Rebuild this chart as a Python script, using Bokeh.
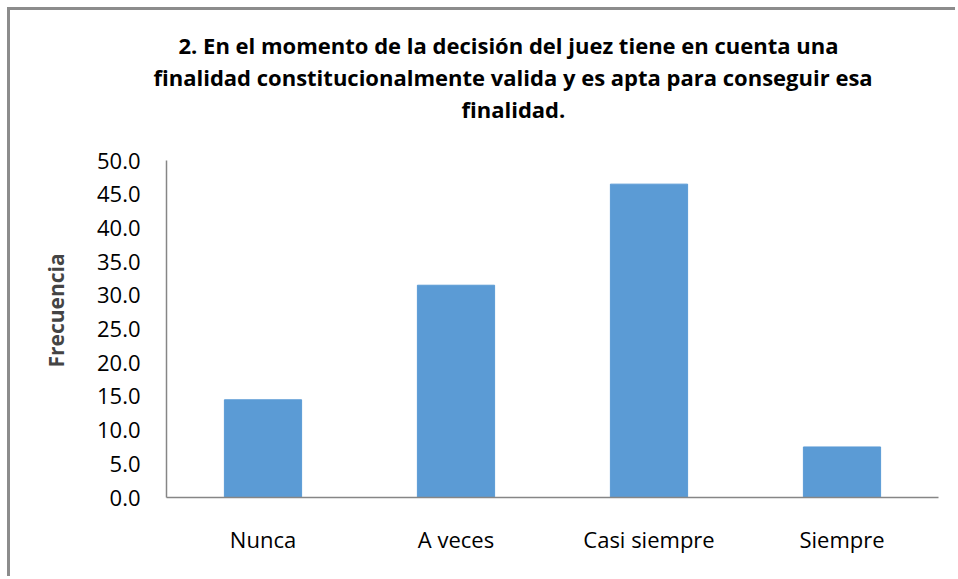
from bokeh.plotting import figure
from bokeh.models import Range1d, FactorRange, SingleIntervalTicker, NumeralTickFormatter, Title
from bokeh.embed import file_html
from bokeh.resources import INLINE

categories = ["Nunca", "A veces", "Casi siempre", "Siempre"]
frecuencia = [14.5, 31.5, 46.5, 7.5]
title_lines = [
    "2. En el momento de la decisión del juez tiene en cuenta una",
    "finalidad constitucionalmente valida y es apta para conseguir esa",
    "finalidad.",
]
# horizontal offsets (px from plot frame's left edge) that centre each title line on the chart
title_offsets = [12, -13, 295]

W, H = 948, 569
p = figure(x_range=FactorRange(factors=categories, range_padding=0),
           y_range=Range1d(0, 55.5),
           width=W, height=H, output_backend="svg", toolbar_location=None,
           min_border_left=156, min_border_right=20, min_border_top=113, min_border_bottom=82,
           styles={"margin-left": "7px", "margin-top": "7px",
                   "border-left": "3px solid #8c8c8c", "border-top": "3px solid #8c8c8c"})
p.x_range.range_padding = 0
p.vbar(x=categories, top=frecuencia, width=0.4, color="#5b9bd5", line_color="#5b9bd5")

p.outline_line_color = None
p.grid.grid_line_color = None
p.background_fill_color = "white"
p.border_fill_color = "white"

p.yaxis.ticker = SingleIntervalTicker(interval=5)
p.yaxis.formatter = NumeralTickFormatter(format="0.0")
p.yaxis.bounds = (0, 50)
for ax in (p.xaxis, p.yaxis):
    ax.axis_line_color = "#868686"
    ax.axis_line_width = 1.5
    ax.major_tick_line_color = None
    ax.minor_tick_line_color = None
    ax.major_label_text_font = "Open Sans"
    ax.major_label_text_color = "black"
p.yaxis.major_label_text_font_size = "22px"
p.xaxis.major_label_text_font_size = "22px"
p.yaxis.major_label_standoff = 20
p.xaxis.major_label_standoff = 20
p.yaxis.axis_label = "Frecuencia"
p.yaxis.axis_label_text_font = "Open Sans"
p.yaxis.axis_label_text_font_style = "bold"
p.yaxis.axis_label_text_font_size = "21px"
p.yaxis.axis_label_standoff = 24


def style_title(t, text, offset, standoff):
    t.text = text
    t.align = "left"
    t.offset = offset
    t.standoff = standoff
    t.text_font = "Open Sans"
    t.text_font_style = "bold"
    t.text_font_size = "22px"
    t.text_color = "black"


# first line is the figure's own title (outermost); the others stack below it, last line nearest the frame
style_title(p.title, title_lines[0], title_offsets[0], 0)
t3 = Title()
style_title(t3, title_lines[2], title_offsets[2], 0)
p.add_layout(t3, "above")
t2 = Title()
style_title(t2, title_lines[1], title_offsets[1], 0)
p.add_layout(t2, "above")

open("out.html", "w").write(file_html(p, INLINE))
